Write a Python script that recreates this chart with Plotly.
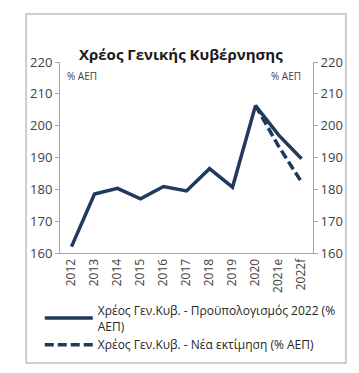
import plotly.graph_objects as go

years = ["2012", "2013", "2014", "2015", "2016", "2017", "2018", "2019", "2020", "2021e", "2022f"]
budget_2022 = [162.0, 178.5, 180.3, 177.0, 180.9, 179.5, 186.5, 180.7, 206.3, 197.1, 189.6]
new_est_years = ["2020", "2021e", "2022f"]
new_estimate = [206.3, 193.6, 182.3]

name1 = "Χρέος Γεν.Κυβ. - Προϋπολογισμός 2022 (%<br>ΑΕΠ)"
name2 = "Χρέος Γεν.Κυβ. - Νέα εκτίμηση (% ΑΕΠ)"
navy = "#1f3a5c"
font = "Open Sans, Liberation Sans, sans-serif"

fig = go.Figure()
fig.add_trace(go.Scatter(x=years, y=budget_2022, mode="lines", name=name1,
                         line=dict(color=navy, width=3.5)))
fig.add_trace(go.Scatter(x=new_est_years, y=new_estimate, mode="lines", name=name2,
                         line=dict(color=navy, width=3.5, dash="9px,4px"), yaxis="y2"))

axcommon = dict(range=[160, 220], dtick=10, showgrid=False, zeroline=False,
                showline=True, linecolor="#a6a6a6", linewidth=1,
                ticks="outside", ticklen=4, tickcolor="#a6a6a6",
                tickfont=dict(family=font, size=13, color="#404040"))

fig.update_layout(
    width=359, height=373,
    margin=dict(l=60, r=46, t=62, b=120),
    paper_bgcolor="white", plot_bgcolor="white",
    showlegend=True,
    xaxis=dict(type="category", categoryorder="array", categoryarray=years,
               range=[-0.5, 10.5],
               showgrid=False, showline=True, linecolor="#a6a6a6", ticks="",
               tickangle=-90, tickfont=dict(family=font, size=12, color="#404040")),
    yaxis=dict(**axcommon, side="left"),
    yaxis2=dict(**axcommon, side="right", overlaying="y"),
    legend=dict(x=-0.08, y=-0.225, xanchor="left", yanchor="top",
                font=dict(family=font, size=12, color="#262626"),
                bgcolor="rgba(0,0,0,0)", tracegroupgap=2, itemwidth=48),
    shapes=[dict(type="rect", xref="paper", yref="paper",
                 x0=-0.134, x1=1.130, y0=-0.576, y1=1.251,
                 line=dict(color="#bfbfbf", width=1.5))],
    annotations=[
        dict(text="<b>Χρέος Γενικής Κυβέρνησης</b>", xref="paper", yref="paper",
             x=0.48, y=1.105, showarrow=False, font=dict(family=font, size=15, color="#1a1a1a")),
        dict(text="% ΑΕΠ", xref="paper", yref="paper", x=0.02, y=0.975, xanchor="left",
             showarrow=False, font=dict(family=font, size=10, color="#404040")),
        dict(text="% ΑΕΠ", xref="paper", yref="paper", x=0.96, y=0.975, xanchor="right",
             showarrow=False, font=dict(family=font, size=10, color="#404040")),
    ],
)

fig.write_html("out.html", config={"displayModeBar": False},
               post_script="document.body.style.margin='0';")
